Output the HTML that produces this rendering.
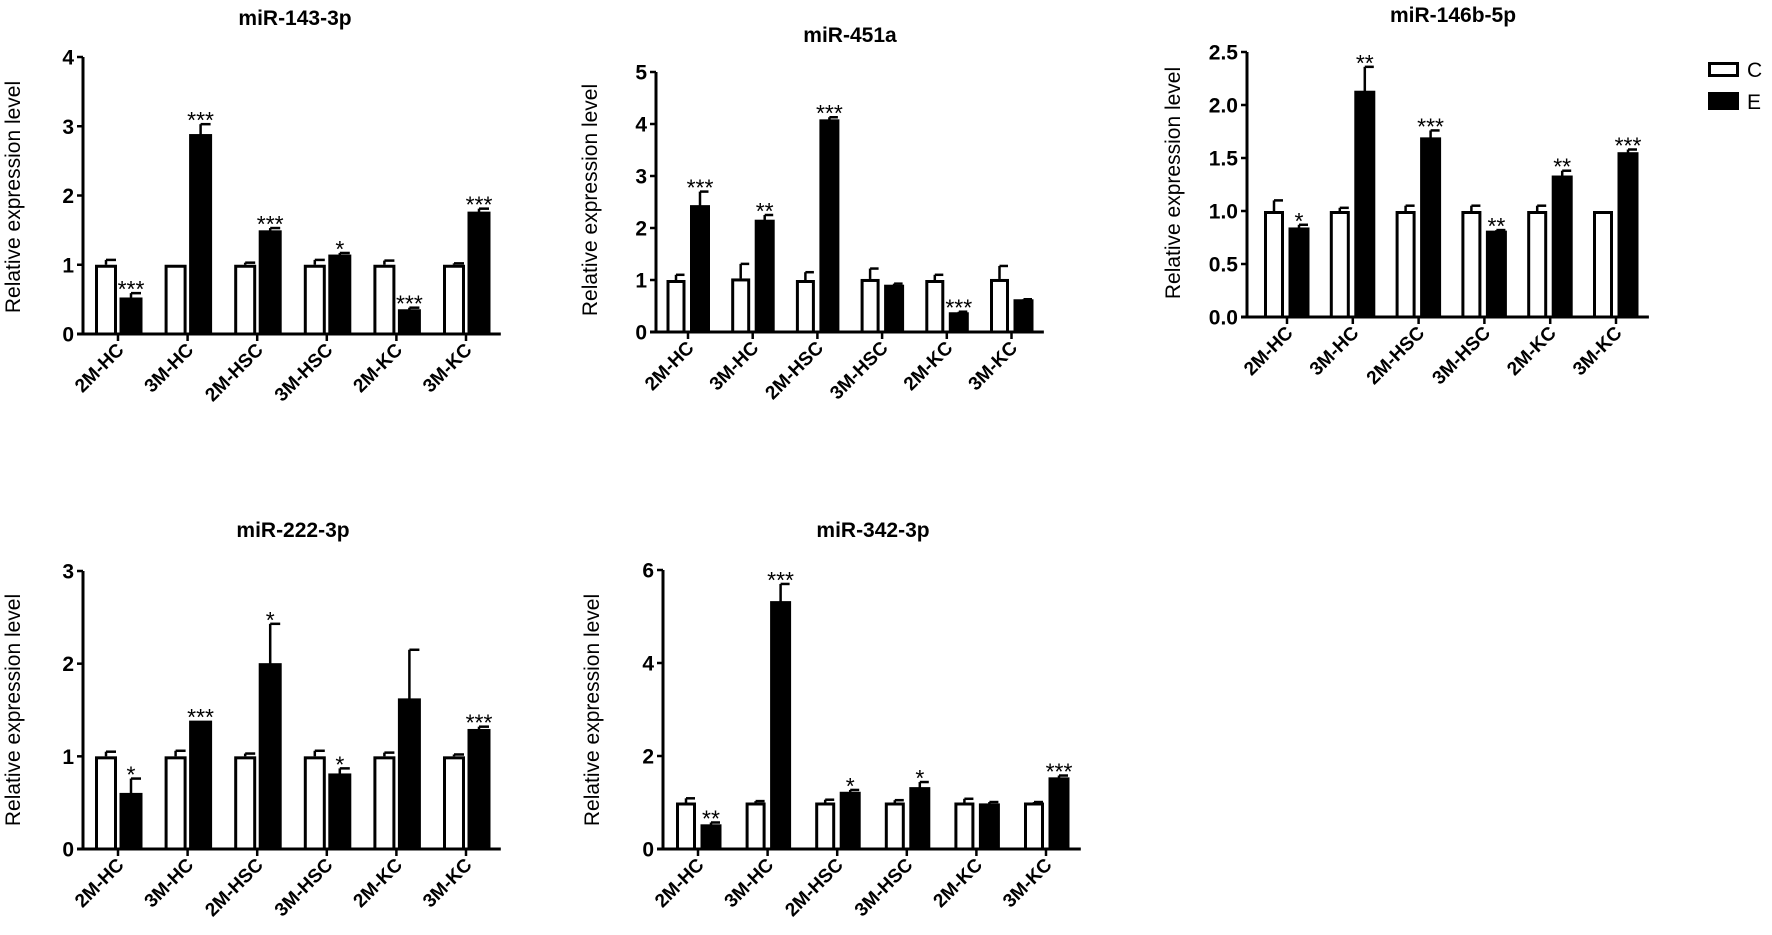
<!DOCTYPE html>
<html><head><meta charset="utf-8"><style>
html,body{margin:0;padding:0;background:#fff;}
svg{display:block;font-family:"Liberation Sans",Arial,sans-serif;}
</style></head><body>
<svg id="fig" width="1772" height="935" viewBox="0 0 1772 935" xmlns="http://www.w3.org/2000/svg"></svg>
<script>
const categories = ["2M-HC","3M-HC","2M-HSC","3M-HSC","2M-KC","3M-KC"];

const p143C = [1,1,1,1,1,1];
const p143CErr = [0.07,0,0.03,0.07,0.06,0.02];
const p143E = [0.52,2.88,1.49,1.14,0.35,1.76];
const p143EErr = [0.07,0.15,0.04,0.03,0.03,0.05];
const p143Stars = ["***","***","***","*","***","***"];
const p143Ticks = ["0","1","2","3","4"];

const p451C = [1,1.03,1.0,1.02,1.0,1.02];
const p451CErr = [0.1,0.28,0.15,0.2,0.1,0.25];
const p451E = [2.43,2.15,4.08,0.9,0.37,0.62];
const p451EErr = [0.27,0.1,0.05,0.03,0.02,0.01];
const p451Stars = ["***","**","***","","***",""];
const p451Ticks = ["0","1","2","3","4","5"];

const p146C = [1,1,1,1,1,1];
const p146CErr = [0.1,0.03,0.05,0.05,0.05,0];
const p146E = [0.84,2.13,1.69,0.81,1.33,1.55];
const p146EErr = [0.03,0.23,0.07,0.01,0.05,0.03];
const p146Stars = ["*","**","***","**","**","***"];
const p146Ticks = ["0.0","0.5","1.0","1.5","2.0","2.5"];

const p222C = [1,1,1,1,1,1];
const p222CErr = [0.05,0.06,0.03,0.06,0.04,0.02];
const p222E = [0.6,1.38,2.0,0.81,1.62,1.29];
const p222EErr = [0.16,0,0.43,0.06,0.53,0.03];
const p222Stars = ["*","***","*","*","","***"];
const p222Ticks = ["0","1","2","3"];

const p342C = [1,1,1,1,1,1];
const p342CErr = [0.09,0.03,0.06,0.05,0.08,0.01];
const p342E = [0.52,5.32,1.22,1.32,0.97,1.53];
const p342EErr = [0.05,0.38,0.05,0.12,0.04,0.05];
const p342Stars = ["**","***","*","*","","***"];
const p342Ticks = ["0","2","4","6"];

const NS = "http://www.w3.org/2000/svg";
const svg = document.getElementById("fig");
function mk(tag, attrs, parent, text){
  const e = document.createElementNS(NS, tag);
  for (const k in attrs) e.setAttribute(k, attrs[k]);
  if (text !== undefined) e.textContent = text;
  (parent||svg).appendChild(e);
  return e;
}

function panel(cfg){
  const g = mk("g", {});
  
  
  const ymax = parseFloat(cfg.ticks[cfg.ticks.length-1]);
  const yS = v => cfg.y0 - (v/ymax)*(cfg.y0-cfg.yTop);
  const sp = cfg.sp;
  const xS = i => cfg.t0 + i*sp;
  const axEnd = cfg.t0 + sp*5.5;
  const t = mk("text", {x:cfg.tx, y:cfg.ty, "text-anchor":"middle", "font-size":21, "font-weight":"bold"}, g, cfg.title);
  
  
  const yl = mk("text", {x:0, y:0, "text-anchor":"middle", "font-size":21, transform:`translate(${cfg.ylx},${cfg.yly}) rotate(-90)`}, g, "Relative expression level");
  
  
  for (let i=0;i<6;i++){
    const cx = xS(i)-cfg.offC, ex = xS(i)+cfg.offE, w = cfg.bw;
    if (cfg.cErr[i]>0){
      const top = yS(cfg.C[i]+cfg.cErr[i]);
      const l = mk("line", {x1:cx, x2:cx, y1:yS(cfg.C[i]), y2:top, stroke:"#000","stroke-width":2.5}, g);
      
      
      mk("line", {x1:cx, x2:cx+w/2-1, y1:top, y2:top, stroke:"#000","stroke-width":2.5}, g);
    }
    const rc = mk("rect", {x:cx-w/2+1.5, y:yS(cfg.C[i])+1.5, width:w-3, height:cfg.y0-yS(cfg.C[i])-1.5, fill:"#fff", stroke:"#000","stroke-width":3}, g);
    
    
    if (cfg.eErr[i]>0){
      const top = yS(cfg.E[i]+cfg.eErr[i]);
      const l = mk("line", {x1:ex, x2:ex, y1:yS(cfg.E[i]), y2:top, stroke:"#000","stroke-width":2.5}, g);
      
      
      mk("line", {x1:ex, x2:ex+w/2-1, y1:top, y2:top, stroke:"#000","stroke-width":2.5}, g);
    }
    const re = mk("rect", {x:ex-w/2, y:yS(cfg.E[i]), width:w, height:cfg.y0-yS(cfg.E[i]), fill:"#000", stroke:"#000","stroke-width":1}, g);
    
    
    if (cfg.stars[i]){
      const st = mk("text", {x:ex, y:yS(cfg.E[i]+cfg.eErr[i])+4, "text-anchor":"middle", "font-size":23}, g, cfg.stars[i]);
      
      
    }
    mk("line", {x1:xS(i), x2:xS(i), y1:cfg.y0, y2:cfg.y0+7, stroke:"#000","stroke-width":2.5}, g);
    const xl = mk("text", {x:0, y:0, "text-anchor":"end", "font-size":19, "font-weight":"bold", transform:`translate(${xS(i)+7},${cfg.y0+17}) rotate(-45)`}, g, categories[i]);
    
    
  }
  const ya = mk("line", {x1:cfg.ax, x2:cfg.ax, y1:cfg.yTop, y2:cfg.y0+1.5, stroke:"#000","stroke-width":3}, g);
  
  
  const xa = mk("line", {x1:cfg.ax-6, x2:axEnd, y1:cfg.y0, y2:cfg.y0, stroke:"#000","stroke-width":3}, g);
  
  
  cfg.ticks.forEach(tk=>{
    const y = yS(parseFloat(tk));
    mk("line", {x1:cfg.ax-6, x2:cfg.ax, y1:y, y2:y, stroke:"#000","stroke-width":2.5}, g);
    const tl = mk("text", {x:cfg.ax-9, y:y+7.5, "text-anchor":"end", "font-size":21, "font-weight":"bold"}, g, tk);
    
    
  });
}

panel({name:"panel-mir-143-3p", title:"miR-143-3p", tx:295, ty:25, ylx:20, yly:197, ax:83, t0:118, yTop:57, y0:334, sp:69.6, bw:22, offC:12, offE:13,
  ticks:p143Ticks, C:p143C, cErr:p143CErr, E:p143E, eErr:p143EErr, stars:p143Stars});
panel({name:"panel-mir-451a", title:"miR-451a", tx:850, ty:42, ylx:597, yly:200, ax:656, t0:688, yTop:72, y0:332, sp:64.7, bw:19, offC:12, offE:12,
  ticks:p451Ticks, C:p451C, cErr:p451CErr, E:p451E, eErr:p451EErr, stars:p451Stars});
panel({name:"panel-mir-146b-5p", title:"miR-146b-5p", tx:1453, ty:22, ylx:1180, yly:183, ax:1247, t0:1287, yTop:52, y0:317, sp:65.8, bw:20, offC:13, offE:12,
  ticks:p146Ticks, C:p146C, cErr:p146CErr, E:p146E, eErr:p146EErr, stars:p146Stars});
panel({name:"panel-mir-222-3p", title:"miR-222-3p", tx:293, ty:537, ylx:20, yly:710, ax:83, t0:118, yTop:571, y0:849, sp:69.6, bw:22, offC:12, offE:13,
  ticks:p222Ticks, C:p222C, cErr:p222CErr, E:p222E, eErr:p222EErr, stars:p222Stars});
panel({name:"panel-mir-342-3p", title:"miR-342-3p", tx:873, ty:537, ylx:599, yly:710, ax:663, t0:698, yTop:570, y0:849, sp:69.6, bw:20, offC:12, offE:13,
  ticks:p342Ticks, C:p342C, cErr:p342CErr, E:p342E, eErr:p342EErr, stars:p342Stars});

const lg = mk("g", {});


const lc = mk("rect", {x:1709.5, y:63.5, width:28, height:12, fill:"#fff", stroke:"#000","stroke-width":3}, lg);


const lct = mk("text", {x:1747, y:77, "font-size":21}, lg, "C");


const le = mk("rect", {x:1708, y:92, width:31, height:18, fill:"#000"}, lg);


const let_ = mk("text", {x:1747, y:109, "font-size":21}, lg, "E");


</script>
</body></html>
